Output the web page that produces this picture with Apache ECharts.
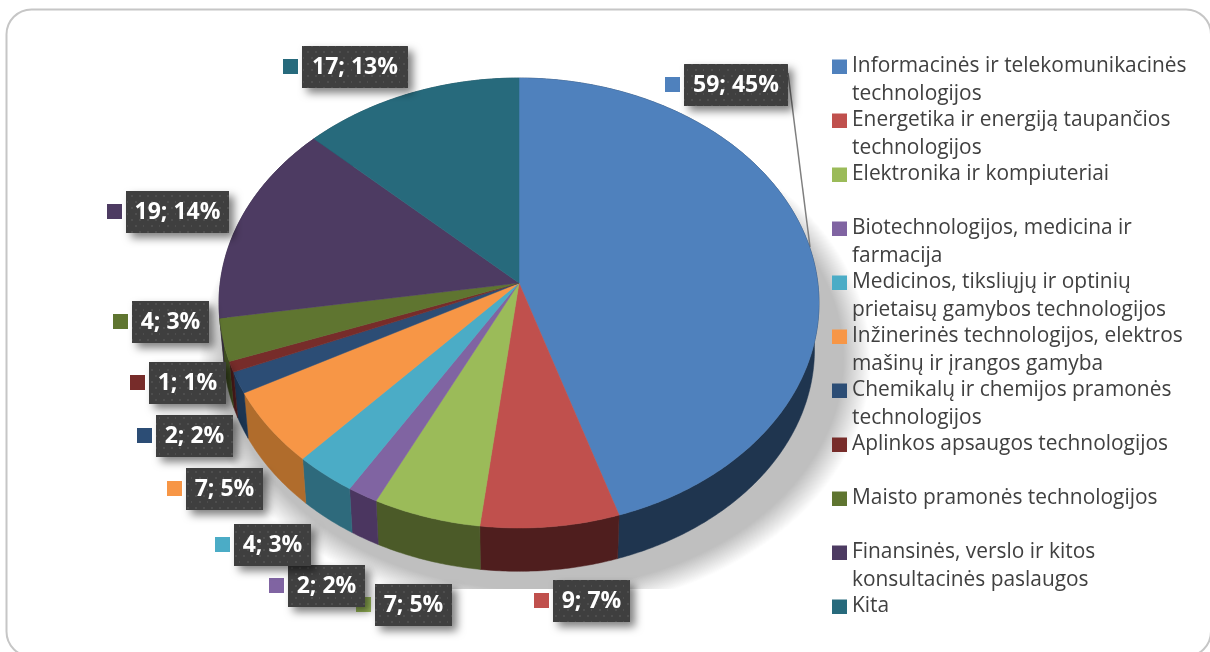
<!DOCTYPE html>
<html>
<head>
<meta charset="utf-8">
<style>html,body{margin:0;padding:0;background:#fff}#c{width:1210px;height:652px}</style>
<script src="https://cdn.jsdelivr.net/npm/echarts@6/dist/echarts.min.js"></script>
</head>
<body>
<div id="c"></div>
<script>
// ---- data ----
const categories = [
  'Informacinės ir telekomunikacinės\ntechnologijos',
  'Energetika ir energiją taupančios\ntechnologijos',
  'Elektronika ir kompiuteriai',
  'Biotechnologijos, medicina ir\nfarmacija',
  'Medicinos, tiksliųjų ir optinių\nprietaisų gamybos technologijos',
  'Inžinerinės technologijos, elektros\nmašinų ir įrangos gamyba',
  'Chemikalų ir chemijos pramonės\ntechnologijos',
  'Aplinkos apsaugos technologijos',
  'Maisto pramonės technologijos',
  'Finansinės, verslo ir kitos\nkonsultacinės paslaugos',
  'Kita'
];
const values = [59, 9, 7, 2, 4, 7, 2, 1, 4, 19, 17];
const percents = [45, 7, 5, 2, 3, 5, 2, 1, 3, 14, 13];

// ---- styling and layout ----
const topColors = ['#4f81bd','#c0504d','#9bbb59','#8064a2','#4bacc6','#f79646','#2c4d75','#772c2a','#5f7530','#4d3b62','#276a7c'];
const wallColors = ['#1f354f','#4f1e1e','#4b5a28','#4b3660','#2e6a7c','#b06c2c','#1c3552','#4a1a1a','#3e4d20','#33263f','#1a4652'];
const labelBoxes = [[684,64,104],[553,580,77],[375,584,77],[288,565,77],[234,524,77],[186,468,77],[156,415,77],[149,362,77],[132,301,77],[126,191,103],[302,46,106]];
const apex = {x: 519, y: 283}, radiusX = 298.8, radiusY = 223.2, tilt = 0.0889;
const wallDepth = 47, wallScale = 0.985;
const shadowBands = 32;
const total = values.reduce((a, b) => a + b, 0);

function project(theta, s, dy) {
  const u = Math.sin(theta), v = Math.cos(theta), k = 1 / (1 + tilt * v);
  return [apex.x + radiusX * u * k * s, apex.y - radiusY * v * k * s + dy];
}
function arc(a0, a1, s, dy) {
  const pts = [], n = Math.max(2, Math.ceil((a1 - a0) / 0.01));
  for (let i = 0; i <= n; i++) pts.push(project(a0 + (a1 - a0) * i / n, s, dy));
  return pts;
}
const pat = document.createElement('canvas');
pat.width = 16; pat.height = 12;
(function () {
  const g = pat.getContext('2d');
  g.fillStyle = '#3f3f3f'; g.fillRect(0, 0, 16, 12);
  g.fillStyle = '#4e4e4e';
  [[3,3],[11,3],[7,9],[15,9]].forEach(p => g.fillRect(p[0], p[1], 2, 2));
})();

const sliceSeries = categories.map((name, i) => {
  const before = values.slice(0, i).reduce((a, b) => a + b, 0);
  return {
    type: 'custom', name, coordinateSystem: 'none', silent: true,
    itemStyle: {color: topColors[i]},
    data: [[values[i]]],
    renderItem: function (params, api) {
      const a0 = before / total * Math.PI * 2;
      const a1 = a0 + api.value(0) / total * Math.PI * 2;
      const upper = arc(a0, a1, 1, 0);
      const lower = arc(a0, a1, wallScale, wallDepth).reverse();
      const box = labelBoxes[i];
      const kids = [
        {type: 'polygon', z2: 2, shape: {points: upper.concat(lower)}, style: {fill: wallColors[i], stroke: wallColors[i], lineWidth: 0.5}},
        {type: 'polygon', z2: 5, shape: {points: [[apex.x, apex.y]].concat(upper)}, style: {fill: topColors[i], stroke: topColors[i], lineWidth: 0.5}},
        {type: 'rect', z2: 20, shape: {x: box[0] - 19, y: box[1] + 13, width: 15, height: 15}, style: {fill: topColors[i]}},
        {type: 'rect', z2: 21, shape: {x: box[0], y: box[1], width: box[2], height: 42},
          style: {fill: {image: pat, repeat: 'repeat'}, shadowBlur: 9, shadowOffsetX: 5, shadowOffsetY: 5, shadowColor: 'rgba(0,0,0,0.5)'}},
        {type: 'text', z2: 22, style: {text: api.value(0) + '; ' + percents[i] + '%', x: box[0] + box[2] / 2, y: box[1] + 21,
          align: 'center', verticalAlign: 'middle', fill: '#fff', font: 'bold 23px "Open Sans"'}}
      ];
      return {type: 'group', children: kids};
    }
  };
});

const backdropSeries = {
  type: 'custom', name: 'backdrop', coordinateSystem: 'none', silent: true, data: [[0]],
  renderItem: function () {
    const kids = [];
    for (let b = 0; b < shadowBands; b++) {
      const s = 1.12 - 0.09 * b / (shadowBands - 1);
      const outline = arc(0, Math.PI * 2, s, wallDepth + 8).map(p => [p[0] + 16, p[1]]);
      kids.push({type: 'polygon', z2: 0, shape: {points: outline}, style: {fill: 'rgba(0,0,0,0.007)'}});
    }
    kids.push({type: 'rect', z2: 1, shape: {x: 190, y: 589, width: 680, height: 45}, style: {fill: '#fff'}});
    kids.push({type: 'line', z2: 1, shape: {x1: 788, y1: 73, x2: 810, y2: 247}, style: {stroke: '#7f7f7f', lineWidth: 1.5}});
    return {type: 'group', children: kids};
  }
};

const chart = echarts.init(document.getElementById('c'));
chart.setOption({
  animation: false,
  backgroundColor: '#ffffff',
  graphic: [{type: 'rect', z: 0, shape: {x: 6.5, y: 9.5, width: 1204.5, height: 647, r: 25}, style: {fill: '#fff', stroke: '#c6c6c6', lineWidth: 2}}],
  legend: {
    orient: 'vertical', left: 832, top: 52, padding: 0, itemGap: -2, itemWidth: 15, itemHeight: 54,
    selectedMode: false,
    icon: 'path://M0 0L0 0M0 6.5L15 6.5L15 21L0 21ZM0 54L0 54',
    data: categories,
    formatter: n => n.indexOf('\n') >= 0 ? n : n + '\n ',
    textStyle: {color: '#404040', fontSize: 20.9, lineHeight: 28, fontFamily: 'Open Sans'}
  },
  series: [backdropSeries].concat(sliceSeries)
});
</script>
</body>
</html>
